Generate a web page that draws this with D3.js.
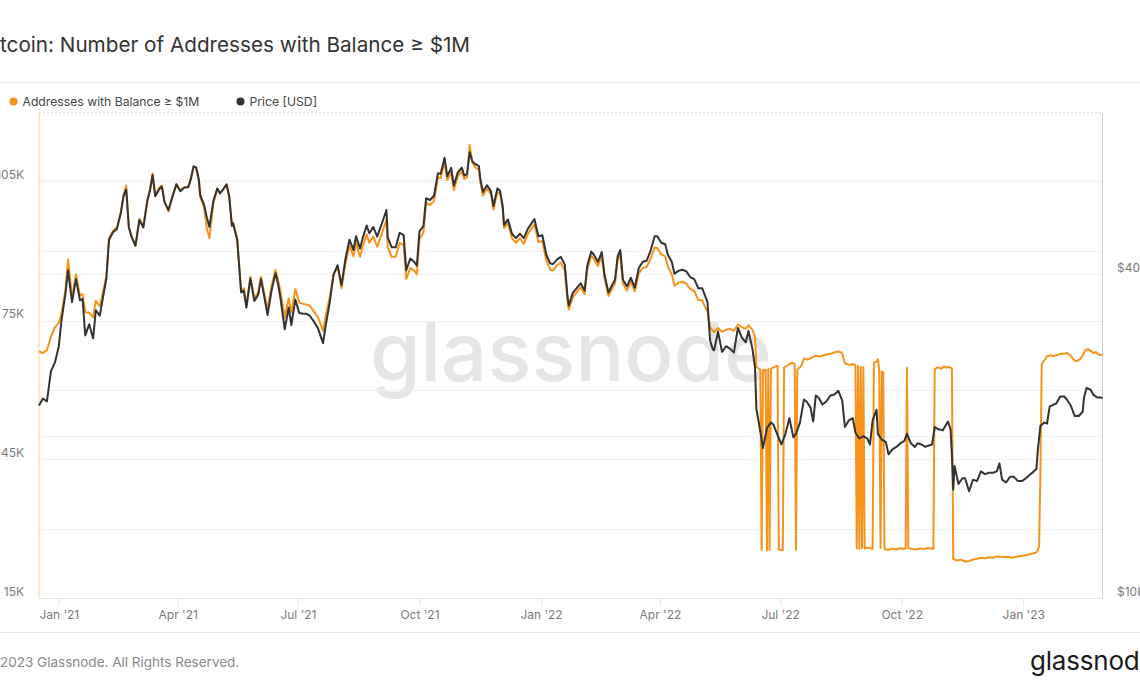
<!DOCTYPE html>
<meta charset="utf-8">
<style>
  body { margin: 0; background: #fff; }
  svg { display: block; font-family: Inter, "Noto Sans", sans-serif; }
</style>
<body>
<script src="https://cdn.jsdelivr.net/npm/d3@7"></script>
<script>

// BTC price, thousands of USD
var priceSeries = [
  ["2020-12-17",22.8],["2020-12-20",23.5],["2020-12-23",23.2],["2020-12-26",26.4],["2020-12-29",27.4],
  ["2021-01-01",29.4],["2021-01-03",32.8],["2021-01-06",36.8],["2021-01-08",40.7],["2021-01-11",35.5],["2021-01-14",39.2],["2021-01-17",35.8],["2021-01-19",36.0],["2021-01-21",30.8],["2021-01-24",32.3],["2021-01-27",30.4],["2021-01-29",34.3],
  ["2021-02-01",33.5],["2021-02-04",36.9],["2021-02-06",39.3],["2021-02-08",46.4],["2021-02-11",47.9],["2021-02-14",48.6],["2021-02-17",52.1],["2021-02-19",55.9],["2021-02-21",57.5],["2021-02-23",48.9],["2021-02-25",47.0],["2021-02-28",45.2],
  ["2021-03-03",50.5],["2021-03-06",48.9],["2021-03-09",54.8],["2021-03-11",57.3],["2021-03-13",61.2],["2021-03-15",55.9],["2021-03-18",57.6],["2021-03-20",58.3],["2021-03-22",54.5],["2021-03-25",52.7],["2021-03-28",55.8],["2021-03-31",58.8],
  ["2021-04-03",57.1],["2021-04-06",58.0],["2021-04-09",58.1],["2021-04-11",60.2],["2021-04-13",63.5],["2021-04-15",63.2],["2021-04-17",60.0],["2021-04-18",56.2],["2021-04-21",53.8],["2021-04-23",51.1],["2021-04-25",49.0],["2021-04-28",54.8],
  ["2021-05-01",57.8],["2021-05-03",56.6],["2021-05-05",57.4],["2021-05-08",58.8],["2021-05-10",55.9],["2021-05-12",49.2],["2021-05-13",49.7],["2021-05-16",46.4],["2021-05-19",37.0],["2021-05-21",37.3],["2021-05-23",34.7],["2021-05-26",39.3],["2021-05-29",35.7],
  ["2021-06-01",36.7],["2021-06-03",39.2],["2021-06-06",35.8],["2021-06-08",33.6],["2021-06-11",37.3],["2021-06-14",40.2],["2021-06-16",38.3],["2021-06-18",35.8],["2021-06-21",31.6],["2021-06-24",34.7],["2021-06-26",32.2],["2021-06-29",35.9],
  ["2021-07-02",33.9],["2021-07-05",33.8],["2021-07-07",33.8],["2021-07-10",33.5],["2021-07-13",32.7],["2021-07-16",31.8],["2021-07-20",29.8],["2021-07-22",32.1],["2021-07-25",35.4],["2021-07-28",40.0],["2021-07-31",41.6],
  ["2021-08-03",38.2],["2021-08-06",42.8],["2021-08-09",46.4],["2021-08-12",44.4],["2021-08-14",47.1],["2021-08-17",44.7],["2021-08-19",46.7],["2021-08-22",49.3],["2021-08-24",47.7],["2021-08-27",49.0],["2021-08-30",47.0],
  ["2021-09-02",49.3],["2021-09-06",52.7],["2021-09-07",46.8],["2021-09-10",44.9],["2021-09-13",44.9],["2021-09-16",47.8],["2021-09-19",47.3],["2021-09-21",40.7],["2021-09-24",42.8],["2021-09-27",42.2],["2021-09-29",41.5],
  ["2021-10-01",48.1],["2021-10-04",49.2],["2021-10-06",55.4],["2021-10-09",55.0],["2021-10-12",56.0],["2021-10-15",61.7],["2021-10-17",61.5],["2021-10-20",65.9],["2021-10-22",60.9],["2021-10-25",63.1],["2021-10-27",58.5],["2021-10-30",61.9],
  ["2021-11-02",63.2],["2021-11-04",61.0],["2021-11-06",61.5],["2021-11-08",67.5],["2021-11-10",64.9],["2021-11-12",64.2],["2021-11-15",63.6],["2021-11-16",60.3],["2021-11-18",56.9],["2021-11-21",58.6],["2021-11-24",57.2],["2021-11-26",53.6],["2021-11-29",57.8],
  ["2021-12-01",57.2],["2021-12-03",53.6],["2021-12-04",49.4],["2021-12-07",50.6],["2021-12-10",47.6],["2021-12-13",46.7],["2021-12-16",47.6],["2021-12-19",46.7],["2021-12-22",48.6],["2021-12-27",50.7],["2021-12-30",47.1],
  ["2022-01-02",47.3],["2022-01-05",43.5],["2022-01-08",41.9],["2022-01-10",41.8],["2022-01-13",42.6],["2022-01-16",43.1],["2022-01-19",41.7],["2022-01-21",36.5],["2022-01-22",35.0],["2022-01-25",36.9],["2022-01-28",37.7],["2022-01-31",38.5],
  ["2022-02-03",37.3],["2022-02-05",41.5],["2022-02-08",44.1],["2022-02-10",43.5],["2022-02-13",42.2],["2022-02-16",44.0],["2022-02-18",40.0],["2022-02-21",37.0],["2022-02-24",38.3],["2022-02-26",39.1],["2022-02-28",43.2],
  ["2022-03-02",44.4],["2022-03-04",39.1],["2022-03-07",38.0],["2022-03-10",39.4],["2022-03-13",37.8],["2022-03-16",41.1],["2022-03-19",42.2],["2022-03-22",42.4],["2022-03-25",44.3],["2022-03-28",47.1],["2022-03-30",47.1],
  ["2022-04-02",45.8],["2022-04-05",45.5],["2022-04-07",43.5],["2022-04-10",42.2],["2022-04-12",40.1],["2022-04-15",40.6],["2022-04-18",40.8],["2022-04-21",40.5],["2022-04-24",39.5],["2022-04-27",39.2],["2022-04-30",37.7],
  ["2022-05-03",37.7],["2022-05-05",36.6],["2022-05-07",35.5],["2022-05-09",30.1],["2022-05-11",29.0],["2022-05-12",28.9],["2022-05-15",31.3],["2022-05-18",28.7],["2022-05-21",29.4],["2022-05-24",29.1],["2022-05-27",28.6],["2022-05-30",31.8],
  ["2022-06-02",30.5],["2022-06-05",29.9],["2022-06-07",31.4],["2022-06-10",29.1],["2022-06-12",26.8],["2022-06-13",22.5],["2022-06-16",20.4],["2022-06-18",19.0],["2022-06-21",20.7],["2022-06-24",21.2],["2022-06-26",21.0],["2022-06-29",20.1],
  ["2022-07-02",19.3],["2022-07-05",20.2],["2022-07-08",21.6],["2022-07-11",19.9],["2022-07-13",20.2],["2022-07-16",21.2],["2022-07-19",23.4],["2022-07-21",23.2],["2022-07-24",22.6],["2022-07-26",21.3],["2022-07-28",23.8],["2022-07-30",23.6],
  ["2022-08-02",22.9],["2022-08-05",23.2],["2022-08-08",23.8],["2022-08-11",23.9],["2022-08-14",24.3],["2022-08-17",23.3],["2022-08-19",20.8],["2022-08-22",21.4],["2022-08-25",21.6],["2022-08-27",20.3],["2022-08-30",19.8],
  ["2022-09-02",20.0],["2022-09-05",19.8],["2022-09-07",19.3],["2022-09-09",21.4],["2022-09-12",22.4],["2022-09-13",20.2],["2022-09-16",19.7],["2022-09-19",19.5],["2022-09-21",18.5],["2022-09-24",18.9],["2022-09-27",19.1],["2022-09-30",19.4],
  ["2022-10-03",19.6],["2022-10-05",20.2],["2022-10-08",19.4],["2022-10-11",19.1],["2022-10-13",19.4],["2022-10-16",19.3],["2022-10-19",19.1],["2022-10-21",19.2],["2022-10-24",19.3],["2022-10-26",20.8],["2022-10-29",20.6],
  ["2022-11-01",20.5],["2022-11-05",21.3],["2022-11-07",20.6],["2022-11-08",18.5],["2022-11-09",15.9],["2022-11-10",17.6],["2022-11-13",16.3],["2022-11-16",16.7],["2022-11-18",16.7],["2022-11-21",15.8],["2022-11-24",16.6],["2022-11-27",16.5],["2022-11-30",17.2],
  ["2022-12-03",17.0],["2022-12-06",17.1],["2022-12-09",17.1],["2022-12-12",17.2],["2022-12-14",17.8],["2022-12-16",16.6],["2022-12-19",16.4],["2022-12-22",16.8],["2022-12-25",16.8],["2022-12-28",16.5],["2022-12-31",16.5],
  ["2023-01-03",16.7],["2023-01-06",16.95],["2023-01-09",17.2],["2023-01-11",17.4],["2023-01-12",18.8],["2023-01-14",20.9],["2023-01-17",21.2],["2023-01-19",21.1],["2023-01-21",22.7],["2023-01-24",22.9],["2023-01-26",23.0],["2023-01-29",23.7],
  ["2023-02-01",23.7],["2023-02-03",23.4],["2023-02-06",22.8],["2023-02-09",21.8],["2023-02-12",21.8],["2023-02-15",22.2],["2023-02-16",23.6],["2023-02-18",24.6],["2023-02-21",24.4],["2023-02-23",23.9],["2023-02-26",23.6],["2023-03-01",23.6],["2023-03-02",23.5]
];

// addresses with balance >= $1M, thousands
var addrSeries = [
  ["2020-12-17",68.3],["2020-12-20",68.0],["2020-12-23",68.6],["2020-12-26",71.5],["2020-12-29",73.5],
  ["2021-01-01",74.5],["2021-01-03",76.5],["2021-01-06",81.5],["2021-01-08",88.2],["2021-01-11",80.0],["2021-01-14",85.0],["2021-01-17",80.4],["2021-01-19",80.7],["2021-01-21",76.8],["2021-01-24",76.7],["2021-01-27",75.7],["2021-01-29",79.3],
  ["2021-02-01",78.1],["2021-02-04",81.9],["2021-02-06",84.6],["2021-02-08",92.8],["2021-02-11",94.4],["2021-02-14",95.2],["2021-02-17",98.6],["2021-02-19",102.2],["2021-02-21",104.2],["2021-02-23",95.3],["2021-02-25",93.4],["2021-02-28",91.2],
  ["2021-03-03",97.0],["2021-03-06",95.4],["2021-03-09",101.0],["2021-03-11",103.4],["2021-03-13",106.8],["2021-03-15",102.0],["2021-03-18",103.8],["2021-03-20",104.2],["2021-03-22",100.7],["2021-03-25",98.6],["2021-03-28",101.8],["2021-03-31",104.5],
  ["2021-04-03",103.2],["2021-04-06",103.8],["2021-04-09",104.0],["2021-04-11",105.8],["2021-04-13",108.4],["2021-04-15",107.9],["2021-04-17",105.3],["2021-04-18",101.8],["2021-04-21",99.4],["2021-04-23",95.0],["2021-04-25",92.8],["2021-04-28",100.5],
  ["2021-05-01",103.4],["2021-05-03",102.5],["2021-05-05",103.2],["2021-05-08",104.4],["2021-05-10",101.6],["2021-05-12",95.8],["2021-05-13",96.2],["2021-05-16",92.8],["2021-05-19",81.4],["2021-05-21",82.0],["2021-05-23",78.2],["2021-05-26",84.5],["2021-05-29",79.8],
  ["2021-06-01",81.2],["2021-06-03",84.5],["2021-06-06",80.2],["2021-06-08",77.4],["2021-06-11",82.5],["2021-06-14",86.0],["2021-06-16",83.8],["2021-06-18",81.0],["2021-06-21",75.6],["2021-06-24",79.8],["2021-06-26",76.8],["2021-06-29",81.8],
  ["2021-07-02",78.9],["2021-07-05",78.6],["2021-07-07",78.5],["2021-07-10",78.2],["2021-07-13",77.0],["2021-07-16",75.8],["2021-07-20",72.8],["2021-07-22",76.0],["2021-07-25",80.0],["2021-07-28",85.0],["2021-07-31",86.5],
  ["2021-08-03",82.0],["2021-08-06",87.4],["2021-08-09",91.2],["2021-08-12",88.9],["2021-08-14",91.8],["2021-08-17",88.8],["2021-08-19",91.0],["2021-08-22",93.6],["2021-08-24",91.8],["2021-08-27",93.2],["2021-08-30",91.0],
  ["2021-09-02",93.4],["2021-09-06",96.8],["2021-09-07",90.8],["2021-09-10",88.8],["2021-09-13",88.8],["2021-09-16",91.8],["2021-09-19",91.3],["2021-09-21",84.0],["2021-09-24",86.4],["2021-09-27",85.8],["2021-09-29",85.0],
  ["2021-10-01",92.6],["2021-10-04",94.0],["2021-10-06",100.4],["2021-10-09",100.0],["2021-10-12",100.9],["2021-10-15",106.0],["2021-10-17",105.8],["2021-10-20",109.3],["2021-10-22",105.4],["2021-10-25",107.0],["2021-10-27",103.2],["2021-10-30",106.2],
  ["2021-11-02",107.3],["2021-11-04",105.6],["2021-11-06",106.0],["2021-11-08",113.0],["2021-11-10",109.2],["2021-11-12",108.2],["2021-11-15",107.6],["2021-11-16",105.0],["2021-11-18",102.0],["2021-11-21",103.5],["2021-11-24",102.4],["2021-11-26",99.0],["2021-11-29",102.8],
  ["2021-12-01",102.4],["2021-12-03",99.0],["2021-12-04",95.0],["2021-12-07",96.0],["2021-12-10",92.8],["2021-12-13",91.8],["2021-12-16",92.8],["2021-12-19",91.6],["2021-12-22",93.7],["2021-12-27",95.8],["2021-12-30",92.0],
  ["2022-01-02",92.2],["2022-01-05",88.0],["2022-01-08",86.0],["2022-01-10",85.8],["2022-01-13",86.9],["2022-01-16",87.5],["2022-01-19",85.8],["2022-01-21",79.4],["2022-01-22",77.4],["2022-01-25",80.0],["2022-01-28",81.1],["2022-01-31",82.2],
  ["2022-02-03",80.7],["2022-02-05",86.0],["2022-02-08",89.0],["2022-02-10",88.3],["2022-02-13",86.8],["2022-02-16",88.9],["2022-02-18",84.2],["2022-02-21",80.3],["2022-02-24",82.0],["2022-02-26",83.0],["2022-02-28",88.0],
  ["2022-03-02",89.4],["2022-03-04",83.0],["2022-03-07",81.5],["2022-03-10",83.4],["2022-03-13",81.3],["2022-03-16",85.2],["2022-03-19",86.4],["2022-03-22",86.6],["2022-03-25",88.4],["2022-03-28",90.8],["2022-03-30",90.7],
  ["2022-04-02",89.3],["2022-04-05",88.9],["2022-04-07",86.7],["2022-04-10",85.0],["2022-04-12",82.5],["2022-04-15",83.2],["2022-04-18",83.4],["2022-04-21",83.0],["2022-04-24",81.8],["2022-04-27",81.4],["2022-04-30",79.4],
  ["2022-05-03",79.4],["2022-05-05",78.0],["2022-05-07",77.0],["2022-05-09",73.5],["2022-05-11",72.8],["2022-05-12",72.5],["2022-05-15",73.4],["2022-05-18",72.6],["2022-05-21",73.0],["2022-05-24",73.2],["2022-05-27",72.8],["2022-05-30",74.1],
  ["2022-06-02",73.6],["2022-06-05",73.2],["2022-06-07",74.0],["2022-06-10",73.0],["2022-06-12",71.5],["2022-06-13",65.0],["2022-06-16",64.3],["2022-06-17",25.4],["2022-06-18",64.2],["2022-06-20",64.4],["2022-06-21",25.3],["2022-06-22",64.5],["2022-06-23",25.4],["2022-06-24",64.6],["2022-06-27",65.0],["2022-06-29",65.2],["2022-06-30",25.5],
  ["2022-07-03",25.3],["2022-07-04",64.8],["2022-07-07",65.4],["2022-07-10",65.9],["2022-07-12",65.6],["2022-07-13",25.4],["2022-07-14",64.4],["2022-07-17",65.2],["2022-07-19",66.8],["2022-07-22",66.6],["2022-07-25",67.0],["2022-07-28",67.4],["2022-07-31",67.2],
  ["2022-08-03",67.5],["2022-08-06",67.7],["2022-08-09",67.9],["2022-08-12",68.2],["2022-08-15",68.3],["2022-08-17",67.8],["2022-08-19",65.8],["2022-08-22",65.4],["2022-08-25",65.6],["2022-08-27",65.4],["2022-08-28",25.7],["2022-08-29",65.2],["2022-08-30",25.6],["2022-08-31",65.0],
  ["2022-09-01",25.8],["2022-09-02",64.9],["2022-09-03",25.7],["2022-09-06",25.9],["2022-09-09",25.6],["2022-09-10",65.9],["2022-09-12",66.2],["2022-09-13",66.6],["2022-09-14",64.2],["2022-09-15",25.8],["2022-09-16",64.0],["2022-09-17",63.8],["2022-09-18",25.6],
  ["2022-09-21",25.4],["2022-09-24",25.7],["2022-09-27",25.5],["2022-09-30",25.8],["2022-10-02",25.6],["2022-10-04",25.7],["2022-10-05",64.8],["2022-10-06",25.8],["2022-10-09",25.6],["2022-10-12",25.5],["2022-10-15",25.7],["2022-10-18",25.6],["2022-10-21",25.8],["2022-10-25",25.6],
  ["2022-10-26",64.4],["2022-10-28",64.9],["2022-10-31",64.6],["2022-11-02",65.1],["2022-11-04",64.8],["2022-11-06",65.0],["2022-11-08",64.6],["2022-11-09",23.4],["2022-11-12",23.1],["2022-11-15",23.3],["2022-11-18",22.9],["2022-11-21",23.0],["2022-11-24",23.3],["2022-11-27",23.5],["2022-11-30",23.7],
  ["2022-12-03",23.6],["2022-12-06",23.8],["2022-12-09",23.7],["2022-12-12",24.0],["2022-12-15",23.9],["2022-12-18",23.8],["2022-12-21",23.9],["2022-12-24",23.7],["2022-12-27",23.9],["2022-12-30",24.1],
  ["2023-01-02",24.2],["2023-01-05",24.4],["2023-01-08",24.6],["2023-01-11",24.9],["2023-01-12",25.3],["2023-01-13",26.2],["2023-01-14",42.0],["2023-01-15",65.6],["2023-01-17",66.4],["2023-01-19",67.3],["2023-01-22",67.5],["2023-01-24",67.3],["2023-01-27",67.6],["2023-01-29",67.8],
  ["2023-02-01",67.8],["2023-02-03",68.0],["2023-02-06",67.4],["2023-02-08",66.6],["2023-02-10",66.2],["2023-02-13",66.6],["2023-02-15",67.4],["2023-02-17",68.6],["2023-02-19",68.8],["2023-02-21",68.5],["2023-02-23",68.0],["2023-02-25",68.2],["2023-02-27",67.6],["2023-03-02",67.6]
];

var leftGrid = [30, 45, 60, 75, 90, 105];
var leftLabels = [15, 45, 75, 105];
var rightGrid = [20, 40, 60];
var rightLabels = [10, 40];

var W = 1140, H = 694;
var plot = {left: 39, right: 1102.5, top: 112.5, bottom: 598};

var parse = d3.timeParse("%Y-%m-%d");
var price = priceSeries.map(function (d) { return {date: parse(d[0]), v: d[1]}; });
var addr = addrSeries.map(function (d) { return {date: parse(d[0]), v: d[1]}; });

var x = d3.scaleTime()
    .domain([parse("2020-12-17"), parse("2023-03-02")])
    .range([plot.left, plot.right]);
var yL = d3.scaleLinear().domain([15, 120]).range([plot.bottom, plot.top]);
var yR = d3.scaleLog().domain([10, 80]).range([plot.bottom, plot.top]);

var svg = d3.select("body").append("svg")
    .attr("width", W)
    .attr("height", H);

svg.append("rect").attr("width", W).attr("height", H).attr("fill", "#fff");

// title, clipped at the left edge like the original
var title = svg.append("text")
    .attr("y", 52)
    .attr("font-size", 20.7)
    .attr("fill", "#333")
    .text("Bitcoin: Number of Addresses with Balance \u2265 $1M");
title.attr("x", -title.node().getSubStringLength(0, 2));

// separator lines
svg.append("line").attr("x1", 0).attr("x2", W).attr("y1", 82.5).attr("y2", 82.5)
    .attr("stroke", "#e8e8e8");
svg.append("line").attr("x1", 0).attr("x2", W).attr("y1", 632.5).attr("y2", 632.5)
    .attr("stroke", "#e8e8e8");

// legend
var legend = [
  {label: "Addresses with Balance \u2265 $1M", color: "#f7931a", x: 13.5},
  {label: "Price [USD]", color: "#333333", x: 240.5}
];
legend.forEach(function (l) {
  svg.append("circle").attr("cx", l.x).attr("cy", 101.5).attr("r", 4).attr("fill", l.color);
  svg.append("text").attr("x", l.x + 9).attr("y", 106)
      .attr("font-size", 12.2).attr("fill", "#444").text(l.label);
});

// watermark
svg.append("text")
    .attr("x", 370).attr("y", 381)
    .attr("font-size", 82)
    .attr("font-weight", 500)
    .attr("fill", "#e6e6e6")
    .attr("textLength", 402)
    .attr("lengthAdjust", "spacingAndGlyphs")
    .text("glassnode");

// gridlines
svg.append("g").selectAll("line")
    .data(leftGrid)
    .enter().append("line")
    .attr("x1", plot.left).attr("x2", plot.right)
    .attr("y1", function (d) { return Math.round(yL(d)) + 0.5; })
    .attr("y2", function (d) { return Math.round(yL(d)) + 0.5; })
    .attr("stroke", "#f0f0f0");
svg.append("g").selectAll("line")
    .data(rightGrid)
    .enter().append("line")
    .attr("x1", plot.left).attr("x2", plot.right)
    .attr("y1", function (d) { return Math.round(yR(d)) + 0.5; })
    .attr("y2", function (d) { return Math.round(yR(d)) + 0.5; })
    .attr("stroke", "#f0f0f0");

// top border
svg.append("line")
    .attr("x1", plot.left).attr("x2", plot.right)
    .attr("y1", plot.top).attr("y2", plot.top)
    .attr("stroke", "#e0e0e0").attr("stroke-dasharray", "2,2");

// x axis
svg.append("g")
    .attr("transform", "translate(0," + plot.bottom + ")")
    .call(d3.axisBottom(x)
        .ticks(d3.timeMonth.every(3))
        .tickFormat(d3.timeFormat("%b '%y"))
        .tickSizeInner(8).tickSizeOuter(0).tickPadding(4))
    .call(function (g) { g.select(".domain").attr("stroke", "#e6e6e6"); })
    .call(function (g) { g.selectAll(".tick line").attr("stroke", "#e6e6e6"); })
    .call(function (g) {
      g.selectAll(".tick text")
          .attr("fill", "#7a7a7a")
          .attr("font-size", 12)
          .attr("font-family", "Inter, 'Noto Sans', sans-serif");
    });

// left axis
svg.append("line")
    .attr("x1", plot.left).attr("x2", plot.left)
    .attr("y1", plot.top).attr("y2", plot.bottom)
    .attr("stroke", "#fbd3a4");
svg.append("g").selectAll("text")
    .data(leftLabels)
    .enter().append("text")
    .attr("x", 24)
    .attr("y", function (d) { return yL(d) - 2.5; })
    .attr("text-anchor", "end")
    .attr("font-size", 12)
    .attr("fill", "#7a7a7a")
    .text(function (d) { return d + "K"; });

// right axis
svg.append("line")
    .attr("x1", plot.right).attr("x2", plot.right)
    .attr("y1", plot.top).attr("y2", plot.bottom)
    .attr("stroke", "#cccccc");
svg.append("g").selectAll("text")
    .data(rightLabels)
    .enter().append("text")
    .attr("x", 1117)
    .attr("y", function (d) { return yR(d) - 2.5; })
    .attr("font-size", 12)
    .attr("fill", "#7a7a7a")
    .text(function (d) { return "$" + d + "K"; });

// series
var addrLine = d3.line()
    .x(function (d) { return x(d.date); })
    .y(function (d) { return yL(d.v); });
var priceLine = d3.line()
    .x(function (d) { return x(d.date); })
    .y(function (d) { return yR(d.v); });

svg.append("path")
    .datum(addr)
    .attr("d", addrLine)
    .attr("fill", "none")
    .attr("stroke", "#f7931a")
    .attr("stroke-width", 2)
    .attr("stroke-linejoin", "round");

svg.append("path")
    .datum(price)
    .attr("d", priceLine)
    .attr("fill", "none")
    .attr("stroke", "#333333")
    .attr("stroke-width", 2)
    .attr("stroke-linejoin", "round");

// footer
var foot = svg.append("text")
    .attr("y", 667)
    .attr("font-size", 13.5)
    .attr("fill", "#8a8a8a")
    .text("\u00a9 2023 Glassnode. All Rights Reserved.");
foot.attr("x", -foot.node().getSubStringLength(0, 2));

svg.append("text")
    .attr("x", 1030).attr("y", 670)
    .attr("font-size", 26)
    .attr("font-weight", 400)
    .attr("fill", "#1a1a1a")
    .attr("letter-spacing", -0.2)
    .text("glassnode");

</script>
</body>
